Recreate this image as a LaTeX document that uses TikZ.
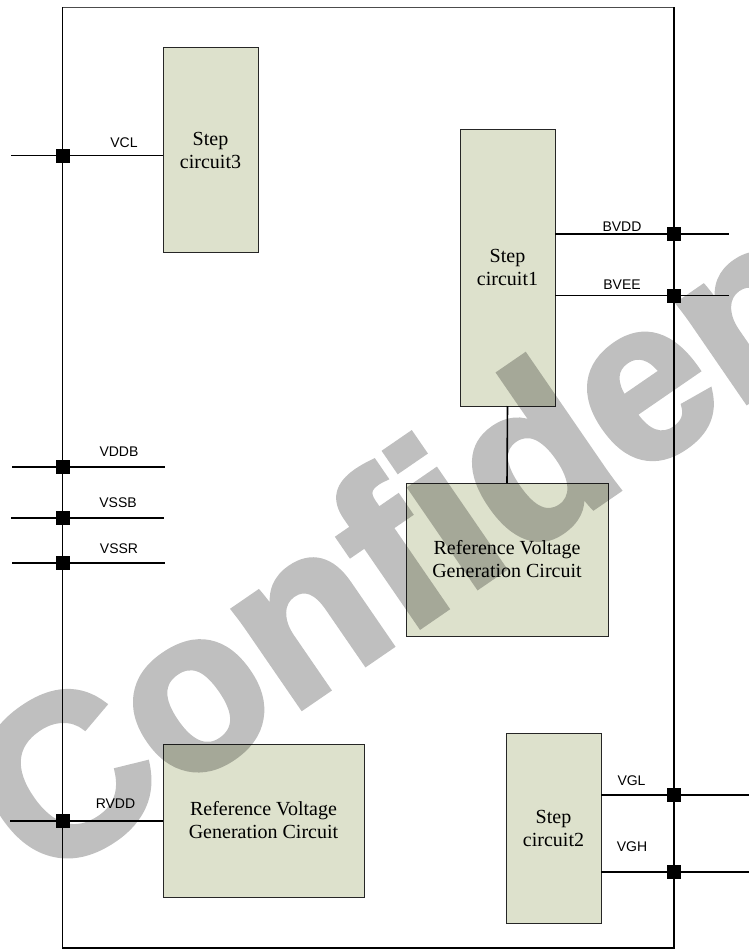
\documentclass[tikz,border=0pt]{standalone}
\usepackage{fontspec}
\setmainfont{Liberation Serif}
\newfontfamily\labfont{Liberation Sans}
\newfontfamily\wmfont{Liberation Sans Bold}[FakeBold=2.5]
\definecolor{boxfill}{RGB}{221,225,204}
\begin{document}
\begin{tikzpicture}[x=1pt,y=-1pt,
  blk/.style={draw=black!85, fill=boxfill, line width=1pt, inner sep=0pt, outer sep=0pt,
    align=center, font=\fontsize{20}{23}\selectfont},
  jn/.style={fill=black, minimum size=14pt, inner sep=0pt, outer sep=0pt},
  sig/.style={draw=black, line width=1.6pt},
  frm/.style={draw=black, line width=1.9pt},
  lab/.style={anchor=base, inner sep=0pt, font=\labfont\fontsize{14}{16}\selectfont}]
\useasboundingbox (0,0) rectangle (749,950);
% frame
\coordinate (f1) at (62.5,7.5);
\coordinate (f2) at (674,7.5);
\coordinate (f3) at (674,948);
\coordinate (f4) at (62.5,948);
\draw[draw=black!70, line width=1.2pt] (f1) -- (f2);
\draw[frm] (f2) -- (f3) -- (f4) -- (f1);
% boxes
\node[blk, minimum width=95pt, minimum height=204pt] (s3) at (210.5,150) {Step\\circuit3};
\node[blk, minimum width=95pt, minimum height=277pt] (s1) at (507.5,267.5) {Step\\circuit1};
\node[blk, minimum width=202pt, minimum height=153pt] (r1) at (507,559.5) {Reference Voltage\\Generation Circuit};
\node[blk, minimum width=201pt, minimum height=153pt] (r2) at (263.5,820.5) {Reference Voltage\\Generation Circuit};
\node[blk, minimum width=95pt, minimum height=190pt] (s2) at (553.5,828) {Step\\circuit2};
\draw[sig] (s1.south) -- (r1.north);
% left pins
\coordinate (vclL) at (11,155.5);
\coordinate (vddbL) at (12,467);
\coordinate (vddbR) at (165,467);
\coordinate (vssbL) at (11,518);
\coordinate (vssbR) at (164,518);
\coordinate (vssrL) at (12,563);
\coordinate (vssrR) at (165,563);
\coordinate (rvddL) at (10,821);
\draw[sig] (vclL) -- (vclL -| s3.west);
\draw[sig] (vddbL) -- (vddbR);
\draw[sig] (vssbL) -- (vssbR);
\draw[sig] (vssrL) -- (vssrR);
\draw[sig] (rvddL) -- (rvddL -| r2.west);
\node[jn] (jvcl) at (63,155.5) {};
\node[jn] (jvddb) at (63,467) {};
\node[jn] (jvssb) at (63,518) {};
\node[jn] (jvssr) at (63,563) {};
\node[jn] (jrvdd) at (63,821) {};
\node[lab] (tvcl) at (124,147) {VCL};
\node[lab] (tvddb) at (119,456) {VDDB};
\node[lab] (tvssb) at (118,507) {VSSB};
\node[lab] (tvssr) at (119,553) {VSSR};
\node[lab] (trvdd) at (115.5,808.5) {RVDD};
% right pins
\coordinate (bvddR) at (729,234);
\coordinate (bveeR) at (729,295.5);
\coordinate (vglR) at (750,795);
\coordinate (vghR) at (750,872);
\draw[sig] (bvddR -| s1.east) -- (bvddR);
\draw[sig] (bveeR -| s1.east) -- (bveeR);
\draw[sig] (vglR -| s2.east) -- (vglR);
\draw[sig] (vghR -| s2.east) -- (vghR);
\node[jn] (jbvdd) at (674,234) {};
\node[jn] (jbvee) at (674,295.5) {};
\node[jn] (jvgl) at (674,795) {};
\node[jn] (jvgh) at (674,872) {};
\node[lab] (tbvdd) at (622,231) {BVDD};
\node[lab] (tbvee) at (622,289) {BVEE};
\node[lab] (tvgl) at (631.5,785) {VGL};
\node[lab] (tvgh) at (632,851) {VGH};
% watermark
\begin{scope}[transparency group, opacity=0.25]
\clip (0,0) rectangle (749,950);
\node[anchor=base west, inner sep=0pt, rotate=34.5, text=black,
  font=\wmfont\fontsize{226}{226}\selectfont] (wm) at (41,887) {Confidential};
\end{scope}
\end{tikzpicture}
\end{document}
